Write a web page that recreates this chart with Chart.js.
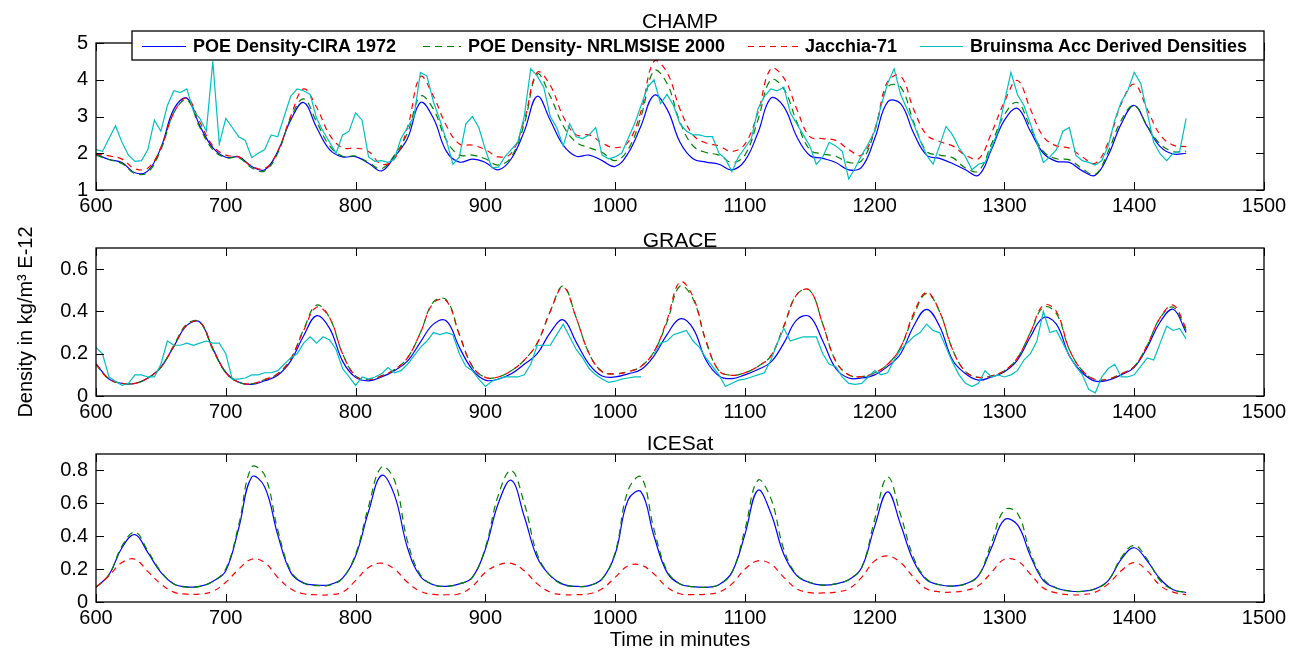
<!DOCTYPE html>
<html>
<head>
<meta charset="utf-8">
<script src="https://cdn.jsdelivr.net/npm/chart.js@4.4.1/dist/chart.umd.min.js"></script>
<style>
html, body { margin: 0; padding: 0; background: #fff; }
#wrap { position: relative; width: 1307px; height: 652px; overflow: hidden; }
#wrap canvas { position: absolute; left: 0; }
</style>
</head>
<body>
<div id="wrap">
	<canvas id="champ" width="1307" height="220" style="top:0px"></canvas>
	<canvas id="grace" width="1307" height="205" style="top:220px"></canvas>
	<canvas id="icesat" width="1307" height="227" style="top:425px"></canvas>
</div>
<script>
// sample times (minutes) for the model curves and for the accelerometer densities
const minutes = [
	600, 610, 620, 630, 640, 650, 660, 670, 680, 690,
	700, 710, 720, 730, 740, 750, 760, 770, 780, 790,
	800, 810, 820, 830, 840, 850, 860, 870, 880, 890,
	900, 910, 920, 930, 940, 950, 960, 970, 980, 990,
	1000, 1010, 1020, 1030, 1040, 1050, 1060, 1070, 1080, 1090,
	1100, 1110, 1120, 1130, 1140, 1150, 1160, 1170, 1180, 1190,
	1200, 1210, 1220, 1230, 1240, 1250, 1260, 1270, 1280, 1290,
	1300, 1310, 1320, 1330, 1340, 1350, 1360, 1370, 1380, 1390,
	1400, 1410, 1420, 1430, 1440
];
const accMinutes = [
	600, 605, 610, 615, 620, 625, 630, 635, 640, 645, 650, 655, 660, 665, 670, 675, 680, 685, 690, 695,
	700, 705, 710, 715, 720, 725, 730, 735, 740, 745, 750, 755, 760, 765, 770, 775, 780, 785, 790, 795,
	800, 805, 810, 815, 820, 825, 830, 835, 840, 845, 850, 855, 860, 865, 870, 875, 880, 885, 890, 895,
	900, 905, 910, 915, 920, 925, 930, 935, 940, 945, 950, 955, 960, 965, 970, 975, 980, 985, 990, 995,
	1000, 1005, 1010, 1015, 1020, 1025, 1030, 1035, 1040, 1045, 1050, 1055, 1060, 1065, 1070, 1075, 1080, 1085, 1090, 1095,
	1100, 1105, 1110, 1115, 1120, 1125, 1130, 1135, 1140, 1145, 1150, 1155, 1160, 1165, 1170, 1175, 1180, 1185, 1190, 1195,
	1200, 1205, 1210, 1215, 1220, 1225, 1230, 1235, 1240, 1245, 1250, 1255, 1260, 1265, 1270, 1275, 1280, 1285, 1290, 1295,
	1300, 1305, 1310, 1315, 1320, 1325, 1330, 1335, 1340, 1345, 1350, 1355, 1360, 1365, 1370, 1375, 1380, 1385, 1390, 1395,
	1400, 1405, 1410, 1415, 1420, 1425, 1430, 1435, 1440
];

const xTicks = [600, 700, 800, 900, 1000, 1100, 1200, 1300, 1400, 1500];
const champTicks = [1, 2, 3, 4, 5];
const graceTicks = [0, 0.2, 0.4, 0.6];
const icesatTicks = [0, 0.2, 0.4, 0.6, 0.8];

const seriesNames = ['POE Density-CIRA 1972', 'POE Density- NRLMSISE 2000', 'Jacchia-71', 'Bruinsma Acc Derived Densities'];

// CHAMP
const champCira = [
	1.98, 1.83, 1.75, 1.47, 1.52, 2.15, 3.2, 3.5, 2.75, 2.15,
	1.89, 1.9, 1.64, 1.55, 2.05, 2.9, 3.38, 2.7, 2.1, 1.9,
	1.91, 1.73, 1.52, 1.91, 2.4, 3.38, 2.95, 2.05, 1.76, 1.84,
	1.75, 1.55, 1.85, 2.6, 3.55, 2.9, 2.22, 1.92, 1.95, 1.8,
	1.64, 2.0, 2.75, 3.58, 3.2, 2.3, 1.85, 1.76, 1.7, 1.55,
	1.8, 2.55, 3.5, 3.27, 2.45, 1.94, 1.86, 1.75, 1.55, 1.62,
	2.4, 3.4, 3.35, 2.55, 1.95, 1.86, 1.72, 1.55, 1.4, 2.1,
	2.9, 3.22, 2.6, 2.0, 1.78, 1.75, 1.52, 1.4, 1.95, 2.8,
	3.3, 2.73, 2.18, 1.98, 2.0
];
const champMsis = [
	1.95, 1.83, 1.72, 1.45, 1.48, 2.1, 3.1, 3.45, 2.7, 2.1,
	1.88, 1.88, 1.6, 1.52, 2.0, 2.95, 3.48, 2.85, 2.2, 1.92,
	1.92, 1.75, 1.58, 1.95, 2.55, 3.55, 3.2, 2.35, 1.95, 1.95,
	1.85, 1.68, 1.9, 2.8, 4.15, 3.55, 2.75, 2.3, 2.15, 2.02,
	1.8, 2.1, 3.0, 4.25, 3.9, 2.85, 2.2, 2.02, 1.95, 1.75,
	1.95, 2.9, 4.0, 3.75, 2.85, 2.1, 1.98, 1.92, 1.75, 1.8,
	2.6, 3.8, 3.8, 2.85, 2.05, 1.95, 1.88, 1.6, 1.52, 2.25,
	3.05, 3.38, 2.7, 2.05, 1.85, 1.82, 1.58, 1.42, 2.05, 2.9,
	3.3, 2.75, 2.25, 2.05, 2.05
];
const champJacchia = [
	1.98, 1.93, 1.84, 1.58, 1.6, 2.15, 3.1, 3.5, 2.85, 2.2,
	1.95, 1.9, 1.65, 1.58, 2.05, 3.0, 3.75, 3.25, 2.5, 2.15,
	2.14, 2.05, 1.7, 1.85, 2.7, 4.08, 3.55, 2.75, 2.25, 2.22,
	2.1, 1.9, 2.0, 2.9, 4.2, 3.85, 3.0, 2.5, 2.5, 2.28,
	2.15, 2.3, 3.15, 4.5, 4.2, 3.2, 2.5, 2.28, 2.2, 2.05,
	2.25, 3.1, 4.3, 4.05, 3.2, 2.45, 2.4, 2.35, 2.1, 1.95,
	2.65, 3.95, 4.1, 3.2, 2.5, 2.32, 2.2, 1.95, 1.85, 2.55,
	3.4, 3.98, 3.2, 2.45, 2.2, 2.14, 1.9, 1.73, 2.3, 3.35,
	3.88, 3.2, 2.5, 2.22, 2.18
];
const champBruinsma = [
	2.1, 2.05, 2.4, 2.75, 2.3, 1.95, 1.78, 1.8, 2.1, 2.9, 2.6, 3.3, 3.7, 3.65, 3.75, 3.15, 2.95, 2.6, 4.5, 2.25,
	2.95, 2.7, 2.45, 2.35, 1.88, 2.0, 2.1, 2.5, 2.45, 3.0, 3.55, 3.75, 3.7, 3.6, 2.95, 2.6, 2.3, 2.0, 2.5, 2.6,
	3.1, 2.9, 1.9, 1.78, 1.8, 1.75, 1.85, 2.4, 2.7, 3.0, 4.2, 4.1, 3.4, 2.9, 2.35, 1.7, 1.9, 2.8, 3.0, 2.7,
	2.1, 1.6, 1.62, 1.9, 2.1, 2.3, 3.0, 4.3, 4.1, 3.8, 3.0, 2.7, 2.2, 2.8, 2.45, 2.4, 2.5, 2.7, 1.95, 1.85,
	1.9, 2.0, 2.4, 2.8, 3.3, 3.8, 4.0, 3.35, 3.6, 3.3, 2.8, 2.6, 2.5, 2.5, 2.45, 2.45, 2.0, 1.85, 1.5, 1.9,
	2.15, 2.4, 3.2, 3.55, 3.75, 3.7, 3.8, 3.1, 2.8, 2.5, 2.2, 1.7, 1.9, 2.3, 2.2, 2.05, 1.3, 1.6, 1.95, 2.25,
	2.6, 3.3, 3.9, 4.3, 3.6, 3.2, 2.8, 2.35, 1.95, 1.7, 2.2, 2.73, 2.5, 2.15, 1.9, 1.55, 1.7, 1.75, 2.15, 2.6,
	3.4, 4.2, 3.6, 3.3, 2.8, 2.3, 1.75, 1.9, 2.1, 2.6, 2.7, 1.95, 1.8, 1.75, 1.68, 1.8, 2.2, 2.9, 3.4, 3.7,
	4.2, 3.9, 3.1, 2.3, 1.98, 1.8, 2.0, 2.05, 2.95
];

// GRACE
const graceCira = [
	0.153, 0.08, 0.06, 0.059, 0.085, 0.137, 0.235, 0.334, 0.35, 0.224,
	0.113, 0.065, 0.055, 0.072, 0.098, 0.165, 0.285, 0.38, 0.32, 0.165,
	0.088, 0.072, 0.09, 0.12, 0.165, 0.255, 0.34, 0.355, 0.23, 0.125,
	0.075, 0.08, 0.105, 0.15, 0.2, 0.3, 0.36, 0.255, 0.15, 0.095,
	0.09, 0.105, 0.125, 0.19, 0.29, 0.365, 0.32, 0.17, 0.095, 0.082,
	0.1, 0.125, 0.16, 0.25, 0.36, 0.375, 0.26, 0.13, 0.085, 0.085,
	0.1, 0.14, 0.2, 0.33, 0.41, 0.33, 0.17, 0.105, 0.075, 0.09,
	0.115, 0.17, 0.28, 0.37, 0.34, 0.19, 0.11, 0.07, 0.075, 0.1,
	0.135, 0.23, 0.35, 0.41, 0.3
];
const graceMsis = [
	0.15, 0.08, 0.06, 0.06, 0.085, 0.135, 0.24, 0.34, 0.35, 0.22,
	0.11, 0.065, 0.058, 0.078, 0.105, 0.175, 0.315, 0.43, 0.37, 0.2,
	0.095, 0.078, 0.095, 0.125, 0.18, 0.3, 0.445, 0.455, 0.29, 0.14,
	0.088, 0.09, 0.12, 0.17, 0.25, 0.4, 0.52, 0.37, 0.2, 0.115,
	0.105, 0.115, 0.14, 0.21, 0.35, 0.52, 0.46, 0.26, 0.12, 0.098,
	0.11, 0.14, 0.19, 0.33, 0.48, 0.5, 0.34, 0.165, 0.1, 0.092,
	0.11, 0.15, 0.23, 0.38, 0.485, 0.4, 0.22, 0.115, 0.088, 0.095,
	0.12, 0.18, 0.3, 0.42, 0.39, 0.22, 0.12, 0.078, 0.08, 0.105,
	0.14, 0.24, 0.37, 0.42, 0.31
];
const graceJacchia = [
	0.15, 0.08, 0.06, 0.06, 0.085, 0.135, 0.235, 0.335, 0.35, 0.225,
	0.11, 0.065, 0.058, 0.078, 0.105, 0.175, 0.31, 0.42, 0.37, 0.2,
	0.095, 0.078, 0.095, 0.125, 0.18, 0.3, 0.44, 0.45, 0.29, 0.14,
	0.088, 0.09, 0.12, 0.17, 0.25, 0.4, 0.515, 0.37, 0.2, 0.115,
	0.105, 0.115, 0.14, 0.21, 0.36, 0.54, 0.47, 0.26, 0.12, 0.098,
	0.11, 0.14, 0.19, 0.33, 0.48, 0.5, 0.34, 0.165, 0.1, 0.092,
	0.11, 0.15, 0.23, 0.39, 0.49, 0.4, 0.22, 0.115, 0.088, 0.095,
	0.12, 0.18, 0.3, 0.43, 0.4, 0.22, 0.12, 0.078, 0.08, 0.105,
	0.14, 0.24, 0.37, 0.43, 0.32
];
const graceBruinsma = [
	0.23, 0.2, 0.09, 0.07, 0.05, 0.06, 0.1, 0.1, 0.09, 0.09, 0.15, 0.26, 0.24, 0.24, 0.25, 0.24, 0.25, 0.26, 0.25, 0.25,
	0.2, 0.08, 0.08, 0.085, 0.1, 0.1, 0.11, 0.11, 0.12, 0.15, 0.18, 0.2, 0.25, 0.28, 0.25, 0.28, 0.265, 0.22, 0.13, 0.09,
	0.05, 0.09, 0.08, 0.09, 0.105, 0.135, 0.11, 0.12, 0.15, 0.19, 0.23, 0.26, 0.3, 0.29, 0.3, 0.29, 0.2, 0.14, 0.12, 0.08,
	0.045, 0.07, 0.08, 0.09, 0.09, 0.09, 0.1, 0.15, 0.24, 0.24, 0.24, 0.29, 0.34, 0.28, 0.22, 0.18, 0.13, 0.1, 0.08, 0.065,
	0.07, 0.08, 0.085, 0.09, 0.09, null, 0.2, 0.25, 0.26, 0.29, 0.3, 0.31, 0.26, 0.23, 0.18, 0.14, 0.1, 0.045, 0.06, 0.075,
	0.08, 0.09, 0.1, 0.11, 0.17, 0.25, 0.32, 0.26, 0.27, 0.28, 0.28, 0.28, 0.2, 0.15, 0.14, 0.09, 0.06, 0.055, 0.06, 0.09,
	0.12, 0.1, 0.11, 0.17, 0.22, 0.25, 0.28, 0.3, 0.34, 0.31, 0.3, 0.23, 0.16, 0.1, 0.06, 0.045, 0.06, 0.12, 0.09, 0.1,
	0.09, 0.1, 0.12, 0.17, 0.2, 0.26, 0.4, 0.3, 0.31, 0.25, 0.19, 0.14, 0.1, 0.03, 0.015, 0.09, 0.13, 0.15, 0.09, 0.09,
	0.1, 0.14, 0.18, 0.17, 0.25, 0.33, 0.31, 0.32, 0.27
];

// ICESat
const icesatCira = [
	0.089, 0.165, 0.33, 0.41, 0.3, 0.18, 0.11, 0.092, 0.095, 0.125,
	0.19, 0.45, 0.76, 0.7, 0.41, 0.18, 0.115, 0.103, 0.105, 0.145,
	0.28, 0.55, 0.77, 0.65, 0.33, 0.155, 0.105, 0.095, 0.11, 0.15,
	0.32, 0.6, 0.74, 0.52, 0.27, 0.16, 0.107, 0.095, 0.1, 0.14,
	0.29, 0.62, 0.67, 0.4, 0.18, 0.11, 0.093, 0.089, 0.105, 0.18,
	0.41, 0.68, 0.54, 0.29, 0.16, 0.118, 0.103, 0.11, 0.135, 0.21,
	0.46, 0.67, 0.47, 0.25, 0.135, 0.105, 0.097, 0.11, 0.16, 0.33,
	0.5, 0.47, 0.28, 0.13, 0.085, 0.067, 0.065, 0.08, 0.13, 0.26,
	0.33, 0.25, 0.14, 0.075, 0.058
];
const icesatMsis = [
	0.09, 0.165, 0.34, 0.425, 0.31, 0.185, 0.11, 0.09, 0.095, 0.125,
	0.2, 0.47, 0.82, 0.77, 0.44, 0.19, 0.115, 0.1, 0.102, 0.145,
	0.29, 0.58, 0.82, 0.74, 0.37, 0.165, 0.105, 0.095, 0.11, 0.15,
	0.33, 0.65, 0.8, 0.6, 0.29, 0.16, 0.105, 0.095, 0.1, 0.14,
	0.3, 0.68, 0.76, 0.44, 0.19, 0.11, 0.093, 0.09, 0.105, 0.18,
	0.44, 0.74, 0.63, 0.32, 0.165, 0.12, 0.103, 0.11, 0.135, 0.21,
	0.5, 0.76, 0.53, 0.27, 0.14, 0.105, 0.097, 0.11, 0.16, 0.36,
	0.56, 0.54, 0.3, 0.14, 0.085, 0.067, 0.065, 0.08, 0.13, 0.27,
	0.345, 0.26, 0.13, 0.075, 0.058
];
const icesatJacchia = [
	0.09, 0.16, 0.24, 0.26, 0.185, 0.11, 0.06, 0.048, 0.048, 0.065,
	0.12, 0.2, 0.26, 0.24, 0.15, 0.08, 0.05, 0.044, 0.044, 0.06,
	0.13, 0.21, 0.236, 0.2, 0.12, 0.065, 0.046, 0.044, 0.05, 0.095,
	0.18, 0.225, 0.235, 0.19, 0.11, 0.06, 0.045, 0.045, 0.05, 0.08,
	0.15, 0.22, 0.225, 0.17, 0.09, 0.05, 0.045, 0.047, 0.06, 0.11,
	0.2, 0.25, 0.23, 0.15, 0.08, 0.057, 0.055, 0.06, 0.08, 0.15,
	0.25, 0.28, 0.24, 0.15, 0.08, 0.062, 0.06, 0.07, 0.1, 0.18,
	0.26, 0.25, 0.17, 0.085, 0.055, 0.044, 0.045, 0.06, 0.11, 0.19,
	0.24, 0.19, 0.1, 0.06, 0.045
];

const FONT = "'Liberation Sans', Arial, sans-serif";
Chart.defaults.font.family = FONT;
Chart.defaults.color = '#000';

// box round the axes with MATLAB style inward ticks, plus the panel title
const framePlugin = {
	id: 'frame',
	afterDraw(chart) {
		const o = chart.options.plugins.frame;
		const a = chart.chartArea;
		const x = chart.scales.x, y = chart.scales.y;
		const ctx = chart.ctx;
		ctx.save();
		ctx.strokeStyle = '#000';
		ctx.lineWidth = 1.3;
		ctx.strokeRect(a.left, a.top, a.right - a.left, a.bottom - a.top);
		ctx.lineWidth = 1;
		ctx.beginPath();
		x.ticks.forEach(t => {
			const px = Math.round(x.getPixelForValue(t.value)) + 0.5;
			ctx.moveTo(px, a.bottom); ctx.lineTo(px, a.bottom - 8);
			ctx.moveTo(px, a.top); ctx.lineTo(px, a.top + 8);
		});
		y.ticks.forEach(t => {
			const py = Math.round(y.getPixelForValue(t.value)) + 0.5;
			ctx.moveTo(a.left, py); ctx.lineTo(a.left + 8, py);
			ctx.moveTo(a.right, py); ctx.lineTo(a.right - 8, py);
		});
		ctx.stroke();
		ctx.fillStyle = '#000';
		ctx.font = '21px ' + FONT;
		ctx.textAlign = 'center';
		ctx.textBaseline = 'alphabetic';
		ctx.fillText(o.title, (a.left + a.right) / 2, a.top - o.gap);
		ctx.restore();
	}
};

// legend box that sits over the top of the CHAMP axes
const legendBoxPlugin = {
	id: 'legendBox',
	afterDraw(chart) {
		const o = chart.options.plugins.legendBox;
		const ctx = chart.ctx;
		ctx.save();
		ctx.fillStyle = '#fff';
		ctx.fillRect(o.left, o.top, o.right - o.left, o.bottom - o.top);
		ctx.strokeStyle = '#000';
		ctx.lineWidth = 1.3;
		ctx.strokeRect(o.left, o.top, o.right - o.left, o.bottom - o.top);
		const midY = Math.round((o.top + o.bottom) / 2) + 0.5;
		ctx.font = 'bold 18px ' + FONT;
		ctx.textAlign = 'left';
		ctx.textBaseline = 'middle';
		chart.data.datasets.forEach((ds, i) => {
			ctx.strokeStyle = ds.borderColor;
			ctx.lineWidth = ds.borderWidth;
			ctx.setLineDash(ds.borderDash || []);
			ctx.beginPath();
			ctx.moveTo(o.lineStart[i], midY);
			ctx.lineTo(o.textStart[i] - 7, midY);
			ctx.stroke();
			ctx.setLineDash([]);
			ctx.fillStyle = '#000';
			ctx.fillText(ds.label, o.textStart[i], midY + 1);
		});
		ctx.restore();
	}
};

function line(label, xs, ys, color, dash, order, tension) {
	return {
		label: label,
		data: xs.map((x, i) => ({ x: x, y: ys[i] })),
		borderColor: color,
		borderWidth: 1.2,
		borderDash: dash,
		pointRadius: 0,
		tension: tension,
		order: order,
		spanGaps: false,
		fill: false
	};
}

function panel(id, opts) {
	const ds = [
		line(seriesNames[0], minutes, opts.cira, '#0000ff', [], 3, 0.4),
		line(seriesNames[1], minutes, opts.msis, '#008000', [7, 5], 2, 0.4),
		line(seriesNames[2], minutes, opts.jacchia, '#ff0000', [6, 5], 1, 0.4)
	];
	if (opts.acc) ds.push(line(seriesNames[3], accMinutes, opts.acc, '#00bfbf', [], 0, 0));
	const tickFont = { size: 20, family: FONT };
	return new Chart(document.getElementById(id), {
		type: 'line',
		data: { datasets: ds },
		plugins: opts.legend ? [framePlugin, legendBoxPlugin] : [framePlugin],
		options: {
			responsive: false,
			animation: false,
			devicePixelRatio: 1,
			layout: { padding: { top: opts.padTop, right: 43, left: 0, bottom: 0 } },
			plugins: {
				legend: { display: false },
				tooltip: { enabled: false },
				frame: { title: opts.title, gap: opts.titleGap },
				legendBox: opts.legend || {}
			},
			scales: {
				x: {
					type: 'linear',
					min: 600,
					max: 1500,
					afterBuildTicks: s => { s.ticks = xTicks.map(v => ({ value: v })); },
					afterFit: s => { s.height = opts.xHeight; },
					grid: { display: false, drawTicks: false },
					border: { display: false },
					ticks: { font: tickFont, color: '#000', padding: 4, maxRotation: 0, autoSkip: false, callback: v => String(v) },
					title: opts.xTitle ? { display: true, text: opts.xTitle, font: { size: 20, family: FONT }, color: '#000', padding: { top: 0, bottom: 0 } } : { display: false }
				},
				y: {
					min: opts.yMin,
					max: opts.yMax,
					afterBuildTicks: s => { s.ticks = opts.yTicks.map(v => ({ value: v })); },
					afterFit: s => { s.width = 96; },
					grid: { display: false, drawTicks: false },
					border: { display: false },
					ticks: { font: tickFont, color: '#000', padding: 8, callback: v => String(v) },
					title: opts.yTitle ? { display: true, text: opts.yTitle, font: { size: 20, family: FONT }, color: '#000', padding: { top: 14, bottom: 0 } } : { display: false }
				}
			}
		}
	});
}

panel('champ', {
	title: 'CHAMP', titleGap: 15, padTop: 43, xHeight: 30,
	yMin: 1, yMax: 5, yTicks: champTicks,
	cira: champCira, msis: champMsis, jacchia: champJacchia, acc: champBruinsma,
	legend: {
		left: 132, right: 1264, top: 31, bottom: 60,
		lineStart: [142, 423, 748, 920],
		textStart: [193, 468, 805, 970]
	}
});

panel('grace', {
	title: 'GRACE', titleGap: 1, padTop: 28, xHeight: 29,
	yMin: 0, yMax: 0.7, yTicks: graceTicks,
	yTitle: 'Density in kg/m\u00B3 E-12',
	cira: graceCira, msis: graceMsis, jacchia: graceJacchia, acc: graceBruinsma
});

panel('icesat', {
	title: 'ICESat', titleGap: 4, padTop: 29, xHeight: 50,
	yMin: 0, yMax: 0.9, yTicks: icesatTicks,
	xTitle: 'Time in minutes',
	cira: icesatCira, msis: icesatMsis, jacchia: icesatJacchia
});
</script>
</body>
</html>
